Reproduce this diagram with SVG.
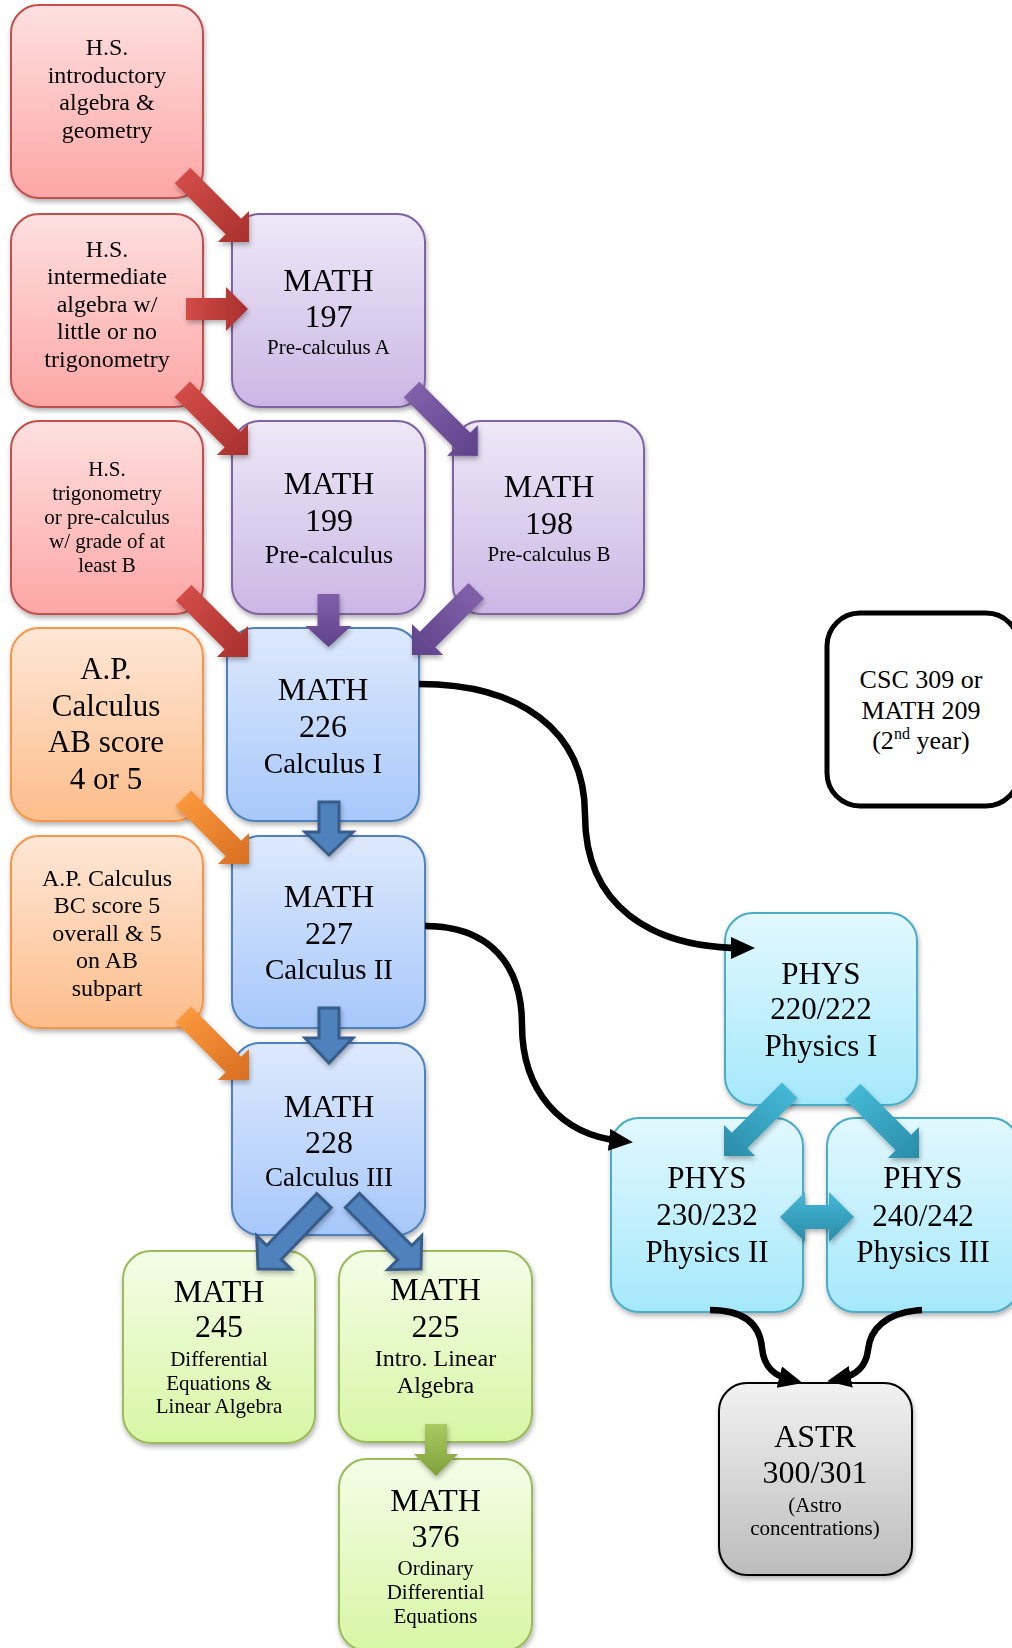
<svg xmlns="http://www.w3.org/2000/svg" width="1012" height="1648" viewBox="0 0 1012 1648">
<defs>
<style>
text{font-family:"Liberation Serif","Times New Roman",serif;fill:#000;text-anchor:middle}
.box{stroke-width:2}
.red{fill:url(#gRed);stroke:#c0504d}
.pur{fill:url(#gPur);stroke:#8064a2}
.ora{fill:url(#gOra);stroke:#f79646}
.blu{fill:url(#gBlu);stroke:#4f81bd}
.grn{fill:url(#gGrn);stroke:#9bbb59}
.cyn{fill:url(#gCyn);stroke:#4bacc6}
.gry{fill:url(#gGry);stroke:#000}
.t32{font-size:32px}
.t31{font-size:31px}
.t29{font-size:29px}
.t27{font-size:27px}
.t26{font-size:26px}
.t24{font-size:24px}
.t21{font-size:21px}
.aRed{fill:url(#aRed)}
.aPur{fill:url(#aPur)}
.aOra{fill:url(#aOra)}
.aBlu{fill:#4f81bd;stroke:#385d8a;stroke-width:3;stroke-linejoin:miter}
.aGrn{fill:url(#aGrn)}
.aCyn{fill:url(#aCyn)}
.curve{fill:none;stroke:#000;stroke-width:6.5;marker-end:url(#mk)}
</style>
<linearGradient id="gRed" x1="0" y1="0" x2="0" y2="1"><stop offset="0" stop-color="#fee0e0"/><stop offset="1" stop-color="#fca6a5"/></linearGradient>
<linearGradient id="gPur" x1="0" y1="0" x2="0" y2="1"><stop offset="0" stop-color="#eee8f7"/><stop offset="1" stop-color="#cbb7e5"/></linearGradient>
<linearGradient id="gOra" x1="0" y1="0" x2="0" y2="1"><stop offset="0" stop-color="#fee7d7"/><stop offset="1" stop-color="#fdbd8a"/></linearGradient>
<linearGradient id="gBlu" x1="0" y1="0" x2="0" y2="1"><stop offset="0" stop-color="#dee9fd"/><stop offset="1" stop-color="#a7c8fb"/></linearGradient>
<linearGradient id="gGrn" x1="0" y1="0" x2="0" y2="1"><stop offset="0" stop-color="#f4fde7"/><stop offset="1" stop-color="#d7f6a4"/></linearGradient>
<linearGradient id="gCyn" x1="0" y1="0" x2="0" y2="1"><stop offset="0" stop-color="#e2f8fe"/><stop offset="1" stop-color="#a5e8fb"/></linearGradient>
<linearGradient id="gGry" x1="0" y1="0" x2="0" y2="1"><stop offset="0" stop-color="#f2f2f2"/><stop offset="1" stop-color="#bcbcbc"/></linearGradient>
<linearGradient id="aRed" x1="0" y1="0" x2="1" y2="0"><stop offset="0" stop-color="#d24c47"/><stop offset="1" stop-color="#a8302d"/></linearGradient>
<linearGradient id="aPur" x1="0" y1="0" x2="1" y2="0"><stop offset="0" stop-color="#8160aa"/><stop offset="1" stop-color="#5f4289"/></linearGradient>
<linearGradient id="aOra" x1="0" y1="0" x2="1" y2="0"><stop offset="0" stop-color="#fa983c"/><stop offset="1" stop-color="#d86e22"/></linearGradient>
<linearGradient id="aGrn" x1="0" y1="0" x2="1" y2="0"><stop offset="0" stop-color="#a9cb62"/><stop offset="1" stop-color="#7f9f3a"/></linearGradient>
<linearGradient id="aCyn" x1="0" y1="0" x2="1" y2="0"><stop offset="0" stop-color="#44b8d6"/><stop offset="1" stop-color="#2a8ca8"/></linearGradient>
<linearGradient id="aCynV" x1="0" y1="0" x2="0" y2="1"><stop offset="0" stop-color="#44b8d6"/><stop offset="1" stop-color="#2a8ca8"/></linearGradient>
<filter id="sh" x="-10%" y="-10%" width="125%" height="125%"><feDropShadow dx="1" dy="3" stdDeviation="2.5" flood-color="#000" flood-opacity="0.3"/></filter>
<marker id="mk" markerUnits="userSpaceOnUse" markerWidth="24" markerHeight="22" viewBox="0 0 24 22" refX="12" refY="11" orient="auto"><path d="M0,0 L24,11 L0,22 z" fill="#000"/></marker>
</defs>

<g id="nodes">
<g id="hs-intro" filter="url(#sh)"><rect class="box red" x="11" y="5" width="192" height="193" rx="28"/>
<text class="t24" x="107" y="55">H.S.</text><text class="t24" x="107" y="83">introductory</text><text class="t24" x="107" y="110">algebra &amp;</text><text class="t24" x="107" y="138">geometry</text></g>

<g id="hs-intermediate" filter="url(#sh)"><rect class="box red" x="11" y="214" width="192" height="193" rx="28"/>
<text class="t24" x="107" y="257">H.S.</text><text class="t24" x="107" y="284">intermediate</text><text class="t24" x="107" y="312">algebra w/</text><text class="t24" x="107" y="339">little or no</text><text class="t24" x="107" y="367">trigonometry</text></g>

<g id="math197" filter="url(#sh)"><rect class="box pur" x="232" y="214" width="193" height="193" rx="28"/>
<text class="t32" x="328.5" y="291">MATH</text><text class="t32" x="328.5" y="327">197</text><text class="t21" x="328.5" y="354">Pre-calculus A</text></g>

<g id="hs-trig" filter="url(#sh)"><rect class="box red" x="11" y="421" width="192" height="193" rx="28"/>
<text class="t21" x="107" y="476">H.S.</text><text class="t21" x="107" y="500">trigonometry</text><text class="t21" x="107" y="524">or pre-calculus</text><text class="t21" x="107" y="548">w/ grade of at</text><text class="t21" x="107" y="572">least B</text></g>

<g id="math199" filter="url(#sh)"><rect class="box pur" x="232" y="421" width="193" height="193" rx="28"/>
<text class="t32" x="329" y="494">MATH</text><text class="t32" x="329" y="531">199</text><text class="t26" x="329" y="563">Pre-calculus</text></g>

<g id="math198" filter="url(#sh)"><rect class="box pur" x="453" y="421" width="191" height="193" rx="28"/>
<text class="t32" x="549" y="497">MATH</text><text class="t32" x="549" y="534">198</text><text class="t21" x="549" y="561">Pre-calculus B</text></g>

<g id="ap-ab" filter="url(#sh)"><rect class="box ora" x="11" y="628" width="192" height="193" rx="28"/>
<text class="t31" x="106" y="679">A.P.</text><text class="t31" x="106" y="716">Calculus</text><text class="t31" x="106" y="752">AB score</text><text class="t31" x="106" y="789">4 or 5</text></g>

<g id="math226" filter="url(#sh)"><rect class="box blu" x="227" y="628" width="192" height="193" rx="28"/>
<text class="t32" x="323" y="700">MATH</text><text class="t32" x="323" y="737">226</text><text class="t29" x="323" y="773">Calculus I</text></g>

<g id="ap-bc" filter="url(#sh)"><rect class="box ora" x="11" y="836" width="192" height="192" rx="28"/>
<text class="t24" x="107" y="886">A.P. Calculus</text><text class="t24" x="107" y="913">BC score 5</text><text class="t24" x="107" y="941">overall &amp; 5</text><text class="t24" x="107" y="968">on AB</text><text class="t24" x="107" y="996">subpart</text></g>

<g id="math227" filter="url(#sh)"><rect class="box blu" x="232" y="836" width="193" height="192" rx="28"/>
<text class="t32" x="329" y="907">MATH</text><text class="t32" x="329" y="944">227</text><text class="t29" x="329" y="979">Calculus II</text></g>

<g id="math228" filter="url(#sh)"><rect class="box blu" x="232" y="1043" width="193" height="192" rx="28"/>
<text class="t32" x="329" y="1117">MATH</text><text class="t32" x="329" y="1153">228</text><text class="t27" x="329" y="1186">Calculus III</text></g>

<g id="math245" filter="url(#sh)"><rect class="box grn" x="123" y="1251" width="192" height="192" rx="28"/>
<text class="t32" x="219" y="1302">MATH</text><text class="t32" x="219" y="1337">245</text><text class="t21" x="219" y="1366">Differential</text><text class="t21" x="219" y="1390">Equations &amp;</text><text class="t21" x="219" y="1413">Linear Algebra</text></g>

<g id="math225" filter="url(#sh)"><rect class="box grn" x="339" y="1251" width="193" height="191" rx="28"/>
<text class="t32" x="435.5" y="1300">MATH</text><text class="t32" x="435.5" y="1337">225</text><text class="t24" x="435.5" y="1366">Intro. Linear</text><text class="t24" x="435.5" y="1393">Algebra</text></g>

<g id="math376" filter="url(#sh)"><rect class="box grn" x="339" y="1459" width="193" height="192" rx="28"/>
<text class="t32" x="435.5" y="1511">MATH</text><text class="t32" x="435.5" y="1547">376</text><text class="t21" x="435.5" y="1575">Ordinary</text><text class="t21" x="435.5" y="1599">Differential</text><text class="t21" x="435.5" y="1623">Equations</text></g>

<g id="csc309"><rect x="827" y="613" width="192" height="193" rx="33" fill="#fff" stroke="#000" stroke-width="5"/>
<text class="t26" x="921" y="688">CSC 309 or</text><text class="t26" x="921" y="719">MATH 209</text><text class="t26" x="921" y="749">(2<tspan font-size="16" dy="-10">nd</tspan><tspan dy="10"> year)</tspan></text></g>

<g id="phys220" filter="url(#sh)"><rect class="box cyn" x="725" y="913" width="192" height="192" rx="28"/>
<text class="t31" x="821" y="984">PHYS</text><text class="t31" x="821" y="1019">220/222</text><text class="t31" x="821" y="1056">Physics I</text></g>

<g id="phys230" filter="url(#sh)"><rect class="box cyn" x="611" y="1118" width="192" height="194" rx="28"/>
<text class="t31" x="707" y="1188">PHYS</text><text class="t31" x="707" y="1225">230/232</text><text class="t31" x="707" y="1262">Physics II</text></g>

<g id="phys240" filter="url(#sh)"><rect class="box cyn" x="827" y="1118" width="192" height="194" rx="28"/>
<text class="t31" x="923" y="1188">PHYS</text><text class="t31" x="923" y="1226">240/242</text><text class="t31" x="923" y="1262">Physics III</text></g>

<g id="astr300" filter="url(#sh)"><rect class="box gry" x="719" y="1383" width="193" height="192" rx="28"/>
<text class="t32" x="815" y="1447">ASTR</text><text class="t32" x="815" y="1483">300/301</text><text class="t21" x="815" y="1512">(Astro</text><text class="t21" x="815" y="1535">concentrations)</text></g>
</g>

<g id="connectors">
<g filter="url(#sh)">
<polygon class="aRed" transform="translate(249,242) rotate(45)" points="-94,-11 -22,-11 -22,-22 0,0 -22,22 -22,11 -94,11"/>
<polygon class="aRed" transform="translate(248,309)" points="-62,-11 -22,-11 -22,-22 0,0 -22,22 -22,11 -62,11"/>
<polygon class="aRed" transform="translate(248,455) rotate(45)" points="-93,-11 -22,-11 -22,-22 0,0 -22,22 -22,11 -93,11"/>
<polygon class="aRed" transform="translate(248,657) rotate(45)" points="-91,-11 -22,-11 -22,-22 0,0 -22,22 -22,11 -91,11"/>
<polygon class="aPur" transform="translate(478,456) rotate(45)" points="-94,-11 -22,-11 -22,-22 0,0 -22,22 -22,11 -94,11"/>
<polygon class="aPur" transform="translate(328.5,647) rotate(90)" points="-53,-11 -21,-11 -21,-23 0,0 -21,23 -21,11 -53,11"/>
<polygon class="aPur" transform="translate(412,655) rotate(135)" points="-91,-11 -22,-11 -22,-22 0,0 -22,22 -22,11 -91,11"/>
<polygon class="aOra" transform="translate(249,864) rotate(45)" points="-93,-11 -22,-11 -22,-22 0,0 -22,22 -22,11 -93,11"/>
<polygon class="aOra" transform="translate(249,1080) rotate(45)" points="-93,-11 -22,-11 -22,-22 0,0 -22,22 -22,11 -93,11"/>
<polygon class="aBlu" transform="translate(329,855) rotate(90)" points="-53,-10 -23,-10 -23,-24 0,0 -23,24 -23,10 -53,10"/>
<polygon class="aBlu" transform="translate(329,1063) rotate(90)" points="-55,-10 -25,-10 -25,-24 0,0 -25,24 -25,10 -55,10"/>
<polygon class="aBlu" transform="translate(258,1269) rotate(134)" points="-95,-10 -23,-10 -23,-24 0,0 -23,24 -23,10 -95,10"/>
<polygon class="aBlu" transform="translate(421,1269) rotate(45)" points="-97,-10 -23,-10 -23,-24 0,0 -23,24 -23,10 -97,10"/>
<polygon class="aGrn" transform="translate(436,1476) rotate(90)" points="-52,-11 -22,-11 -22,-22 0,0 -22,22 -22,11 -52,11"/>
<polygon class="aCyn" transform="translate(724,1156) rotate(135)" points="-93,-11 -22,-11 -22,-22 0,0 -22,22 -22,11 -93,11"/>
<polygon class="aCyn" transform="translate(919,1158) rotate(45)" points="-94,-11 -22,-11 -22,-22 0,0 -22,22 -22,11 -94,11"/>
<polygon fill="url(#aCynV)" points="780,1217 805,1192 805,1205 829,1205 829,1192 854,1217 829,1242 829,1229 805,1229 805,1242"/>
</g>
<path class="curve" d="M419,684 C520,684 585,730 585,815 C585,905 650,948 743,948"/>
<path class="curve" d="M425,926 C490,926 522,965 522,1025 C522,1090 560,1135 621,1141"/>
<path class="curve" d="M710,1310 C745,1310 760,1325 762,1348 C764,1368 775,1376 791,1380"/>
<path class="curve" d="M922,1310 C885,1312 870,1330 868,1350 C866,1368 855,1376 839,1379"/>
</g>
</svg>
